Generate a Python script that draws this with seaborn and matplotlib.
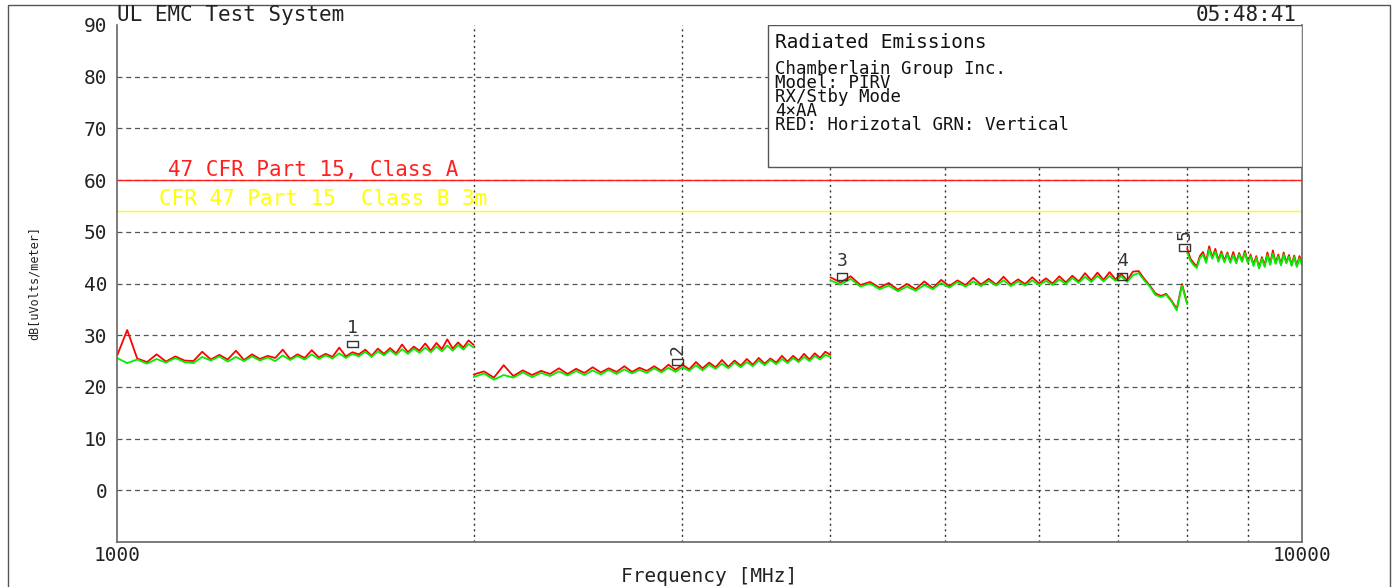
import matplotlib
matplotlib.use("Agg")
import matplotlib.pyplot as plt
import matplotlib.patches as patches
import seaborn as sns
import pandas as pd

seg1_freq = [1000, 1020, 1040, 1060, 1080, 1100, 1120, 1140, 1160, 1180,
             1200, 1220, 1240, 1260, 1280, 1300, 1320, 1340, 1360, 1380,
             1400, 1420, 1440, 1460, 1480, 1500, 1520, 1540, 1560, 1580,
             1600, 1620, 1640, 1660, 1680, 1700, 1720, 1740, 1760, 1780,
             1800, 1820, 1840, 1860, 1880, 1900, 1920, 1940, 1960, 1980,
             2000]
seg1_horiz = [26.0, 31.0, 25.5, 24.8, 26.3, 24.9, 25.9, 25.1, 25.0, 26.8,
              25.3, 26.2, 25.3, 27.0, 25.2, 26.3, 25.4, 26.0, 25.6, 27.2,
              25.4, 26.3, 25.6, 27.1, 25.7, 26.4, 25.8, 27.6, 25.9, 26.7,
              26.3, 27.2, 26.0, 27.4, 26.4, 27.5, 26.5, 28.2, 26.7, 27.8,
              27.0, 28.4, 27.0, 28.5, 27.3, 29.2, 27.4, 28.6, 27.6, 29.0,
              28.1]
seg1_vert = [25.6, 24.6, 25.3, 24.5, 25.4, 24.7, 25.6, 24.8, 24.6, 25.8,
             25.1, 25.9, 24.9, 25.8, 25.0, 25.9, 25.1, 25.7, 25.0, 26.1,
             25.2, 26.0, 25.3, 26.3, 25.4, 26.1, 25.5, 26.5, 25.6, 26.4,
             25.9, 26.8, 25.8, 26.9, 26.1, 27.1, 26.2, 27.3, 26.4, 27.4,
             26.6, 27.6, 26.7, 27.8, 26.9, 28.0, 27.0, 28.1, 27.2, 28.3,
             27.6]

seg2_freq = [2000, 2040, 2080, 2120, 2160, 2200, 2240, 2280, 2320, 2360,
             2400, 2440, 2480, 2520, 2560, 2600, 2640, 2680, 2720, 2760,
             2800, 2840, 2880, 2920, 2960, 3000, 3040, 3080, 3120, 3160,
             3200, 3240, 3280, 3320, 3360, 3400, 3440, 3480, 3520, 3560,
             3600, 3640, 3680, 3720, 3760, 3800, 3840, 3880, 3920, 3960,
             4000]
seg2_horiz = [22.4, 23.0, 21.8, 24.2, 22.1, 23.2, 22.3, 23.1, 22.5, 23.6,
              22.5, 23.5, 22.7, 23.8, 22.8, 23.6, 22.9, 24.0, 22.9, 23.7,
              23.1, 24.0, 23.1, 24.3, 23.3, 24.3, 23.4, 24.8, 23.6, 24.7,
              23.8, 25.2, 23.9, 25.1, 24.1, 25.4, 24.3, 25.6, 24.5, 25.5,
              24.7, 26.0, 24.9, 26.0, 25.1, 26.4, 25.3, 26.5, 25.6, 26.8,
              26.2]
seg2_vert = [21.9, 22.6, 21.4, 22.3, 21.8, 22.8, 21.9, 22.7, 22.1, 23.0,
             22.2, 23.1, 22.3, 23.2, 22.4, 23.3, 22.5, 23.4, 22.6, 23.3,
             22.7, 23.6, 22.8, 23.7, 22.9, 23.8, 23.1, 24.2, 23.2, 24.3,
             23.5, 24.5, 23.6, 24.7, 23.8, 24.8, 24.0, 25.1, 24.2, 25.2,
             24.4, 25.4, 24.6, 25.6, 24.8, 25.8, 25.0, 26.0, 25.3, 26.2,
             25.8]

seg3_freq = [4000, 4080, 4160, 4240, 4320, 4400, 4480, 4560, 4640, 4720,
             4800, 4880, 4960, 5040, 5120, 5200, 5280, 5360, 5440, 5520,
             5600, 5680, 5760, 5840, 5920, 6000, 6080, 6160, 6240, 6320,
             6400, 6480, 6560, 6640, 6720, 6800, 6880, 6960, 7040, 7120,
             7200, 7280, 7360, 7440, 7520, 7600, 7680, 7760, 7840, 7920,
             8000]
seg3_horiz = [41.2, 40.2, 41.4, 39.7, 40.3, 39.2, 40.1, 38.8, 39.9, 38.9,
              40.4, 39.1, 40.7, 39.5, 40.6, 39.7, 41.1, 39.8, 40.9, 39.8,
              41.3, 39.8, 40.8, 39.9, 41.2, 40.0, 41.0, 40.0, 41.4, 40.2,
              41.5, 40.4, 42.0, 40.6, 42.1, 40.7, 42.2, 40.8, 41.8, 40.6,
              42.3, 42.4, 40.9, 39.6, 38.1, 37.6, 38.0, 36.7, 35.1, 39.9,
              36.2]
seg3_vert = [40.6, 39.8, 40.9, 39.4, 40.0, 38.9, 39.6, 38.5, 39.4, 38.6,
             39.7, 38.9, 40.1, 39.2, 40.3, 39.4, 40.4, 39.5, 40.5, 39.6,
             40.6, 39.5, 40.4, 39.6, 40.6, 39.7, 40.5, 39.7, 40.8, 39.9,
             41.1, 40.1, 41.3, 40.3, 41.5, 40.4, 41.5, 40.5, 41.4, 40.3,
             41.6, 42.0, 40.6, 39.4, 37.8, 37.4, 37.8, 36.5, 34.8, 39.6,
             36.0]

seg4_freq = [8000, 8050, 8100, 8150, 8200, 8250, 8300, 8350, 8400, 8450,
             8500, 8550, 8600, 8650, 8700, 8750, 8800, 8850, 8900, 8950,
             9000, 9050, 9100, 9150, 9200, 9250, 9300, 9350, 9400, 9450,
             9500, 9550, 9600, 9650, 9700, 9750, 9800, 9850, 9900, 9950,
             10000]
seg4_horiz = [46.8, 44.8, 44.0, 43.3, 45.3, 46.1, 44.3, 47.2, 45.0, 46.7,
              44.5, 46.2, 44.4, 46.0, 44.2, 46.1, 44.1, 45.9, 44.4, 46.3,
              44.2, 45.6, 43.7, 45.3, 43.1, 45.1, 43.5, 46.0, 43.8, 46.4,
              44.0, 45.6, 43.7, 46.0, 44.1, 45.5, 43.6, 45.4, 43.4, 45.3,
              44.2]
seg4_vert = [46.0, 44.4, 43.6, 43.0, 44.9, 45.6, 44.0, 46.6, 44.8, 46.2,
             44.2, 45.8, 44.1, 45.7, 44.0, 45.5, 43.9, 45.6, 44.2, 45.9,
             44.0, 45.3, 43.4, 45.0, 42.9, 44.8, 43.2, 45.5, 43.6, 45.8,
             43.8, 45.3, 43.5, 45.6, 43.9, 45.2, 43.4, 45.1, 43.2, 44.9,
             43.6]

# Limit lines
limit_a = 60
limit_b = 54

# Peak markers
mk_freq = [1580, 2970, 4090, 7050, 7960]
mk_level = [28.3, 24.8, 41.3, 41.3, 47.0]
mk_label = ["1", "2", "3", "4", "5"]

box_lines = ["Chamberlain Group Inc.", "Model: PIRV", "RX/Stby Mode",
             "4\u00d7AA", "RED: Horizotal GRN: Vertical"]

# build long table
bands = [(seg1_freq, seg1_horiz, seg1_vert), (seg2_freq, seg2_horiz, seg2_vert),
         (seg3_freq, seg3_horiz, seg3_vert), (seg4_freq, seg4_horiz, seg4_vert)]
frames = []
for i, (f, h, v) in enumerate(bands):
    frames.append(pd.DataFrame({"freq": f, "level": h, "pol": "Horizontal", "band": i}))
    frames.append(pd.DataFrame({"freq": f, "level": v, "pol": "Vertical", "band": i}))
df = pd.concat(frames, ignore_index=True)

sns.set_style("white")
plt.rcParams["font.family"] = ["DejaVu Sans Mono", "DejaVu Sans"]

fig = plt.figure(figsize=(13.95, 5.87), dpi=100)
ax = fig.add_axes([117 / 1395, 45 / 587, 1185 / 1395, 517 / 587])
ax.set_xscale("log")

# grid
for lv in range(0, 90, 10):
    ax.axhline(lv, color="#555555", lw=0.9, ls=(0, (4, 3)), zorder=1)
for fq in [2000, 3000, 4000, 5000, 6000, 7000, 8000, 9000]:
    ax.axvline(fq, color="#333333", lw=1.0, ls=(0, (1.5, 2.5)), zorder=1)

sns.lineplot(data=df, x="freq", y="level", hue="pol", units="band",
             estimator=None, hue_order=["Horizontal", "Vertical"],
             palette={"Horizontal": "#ff0000", "Vertical": "#00ee00"},
             legend=False, linewidth=1.3, ax=ax, zorder=2)

ax.axhline(limit_a, color="#ff2020", lw=1.0, zorder=2)
ax.axhline(limit_b, color="#ffff00", lw=1.0, zorder=2)
ax.text(1104, limit_a + 0.8, "47 CFR Part 15, Class A", color="#ff2020",
        fontsize=15, va="baseline", ha="left")
ax.text(1084, limit_b + 1.1, "CFR 47 Part 15  Class B 3m", color="#ffff00",
        fontsize=15, va="baseline", ha="left")

# markers
rect = [(-1.6, -1), (1.6, -1), (1.6, 1), (-1.6, 1), (-1.6, -1)]
sns.scatterplot(x=mk_freq, y=mk_level, marker=rect, s=60, facecolor="none",
                edgecolor="#333333", linewidth=1.0, ax=ax, zorder=3)
for f, l, t in zip(mk_freq, mk_level, mk_label):
    rot = 90 if t in ("2", "5") else 0
    ax.annotate(t, (f, l), xytext=(0, 5), textcoords="offset points",
                ha="center", va="bottom", rotation=rot, fontsize=13,
                color="#333333")

ax.set_xlim(1000, 10000)
ax.set_ylim(-10, 90)
ax.set_xticks([1000, 10000])
ax.set_xticklabels(["1000", "10000"])
ax.xaxis.set_minor_locator(matplotlib.ticker.NullLocator())
ax.set_yticks(range(0, 100, 10))
ax.set_yticklabels([str(v) for v in range(0, 100, 10)])
ax.tick_params(axis="both", length=0, labelsize=14, colors="#222222")
ax.tick_params(axis="y", pad=7)
ax.tick_params(axis="x", pad=3)
ax.set_xlabel("")
ax.set_ylabel("")

for s in ["left", "bottom", "right"]:
    ax.spines[s].set_color("#666666")
    ax.spines[s].set_linewidth(1.2)
ax.spines["top"].set_visible(False)

# info box
box = patches.Rectangle((0.549, 0.7253), 0.451, 0.2747, transform=ax.transAxes,
                        facecolor="white", edgecolor="#555555", lw=1.0, zorder=4)
ax.add_patch(box)
fig.text(775 / 1395, 1 - 48 / 587, "Radiated Emissions", fontsize=14,
         color="#111111", va="baseline", zorder=5)
# multi-line block: baseline alignment pins the last line
fig.text(775 / 1395, 1 - 130 / 587, "\n".join(box_lines), fontsize=12.5,
         color="#111111", va="baseline", linespacing=0.72, zorder=5)

fig.text(117 / 1395, 1 - 21 / 587, "UL EMC Test System", fontsize=15,
         color="#222222", va="baseline")
fig.text(1297 / 1395, 1 - 21 / 587, "05:48:41", fontsize=15,
         color="#222222", va="baseline", ha="right")
fig.text(709 / 1395, 1 - 582 / 587, "Frequency [MHz]", fontsize=14,
         color="#222222", va="baseline", ha="center")
fig.text(34 / 1395, 1 - 283 / 587, "dB[uVolts/meter]", fontsize=8.5,
         color="#222222", va="center", ha="center", rotation=90)

# outer frame
frame = patches.Rectangle((8 / 1395, -0.02), 1382 / 1395, 1.02 - 5 / 587,
                          transform=fig.transFigure, fill=False,
                          edgecolor="#555555", lw=1.0)
fig.patches.append(frame)

fig.savefig("out.png", dpi=100)
plt.close(fig)
